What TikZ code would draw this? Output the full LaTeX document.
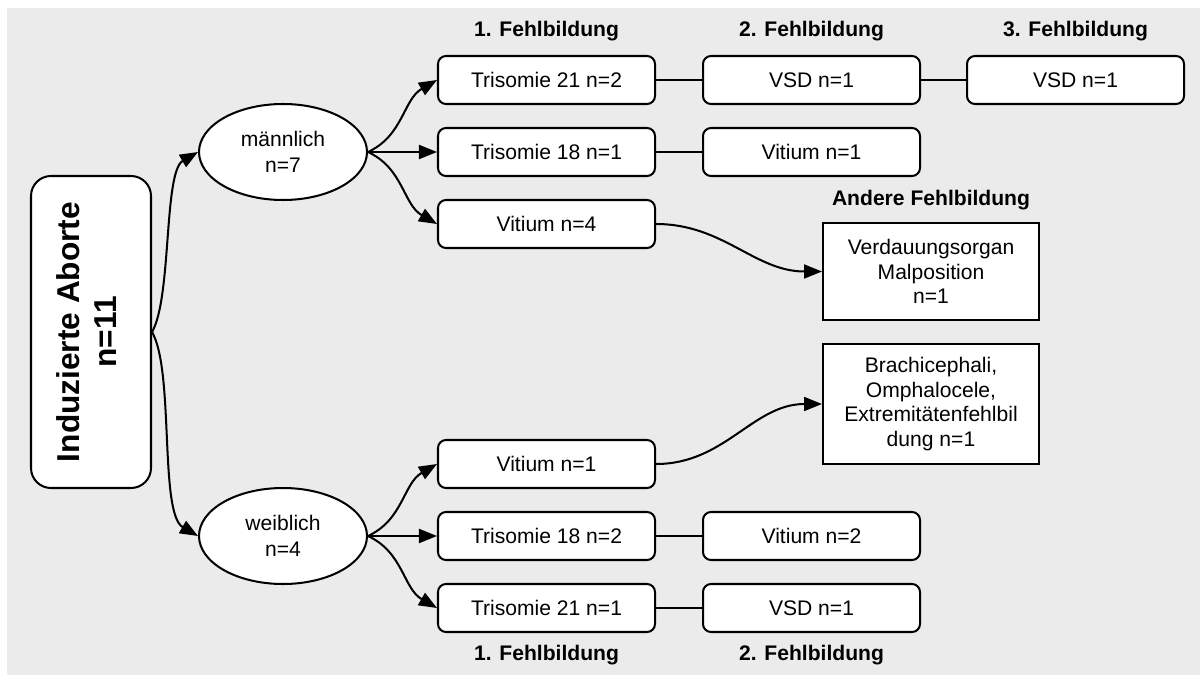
\documentclass[tikz,border=0pt]{standalone}
\usepackage{fontspec}
\setmainfont{Liberation Sans}
\usepackage{graphicx}
\usepackage{tikz}
\usetikzlibrary{shapes.geometric,arrows.meta}
\definecolor{bggray}{RGB}{235,235,235}
\def\boxwidth{4.34cm}
\def\boxheight{0.96cm}

\begin{document}
\begin{tikzpicture}[line width=1.15pt, >={Triangle[length=0.36cm,width=0.28cm]},
        font=\fontsize{12pt}{14pt}\selectfont]
            \tikzstyle{box}=[draw, fill=white, rounded corners=0.16cm, minimum width=\boxwidth, minimum height=\boxheight, inner sep=0pt]
            \tikzstyle{sex}=[draw, fill=white, ellipse, minimum width=3.36cm, minimum height=1.92cm, inner sep=0pt, align=center,
                             font=\fontsize{12pt}{15pt}\selectfont]
            \tikzstyle{other}=[draw, fill=white, minimum width=4.32cm, inner sep=0pt, align=center]
            \tikzstyle{annot}=[font=\fontsize{12pt}{14pt}\selectfont\bfseries]

            % Background
            \useasboundingbox (0,0) rectangle (24,13.5);
            \fill[bggray] (0.14,0) rectangle (24,13.34);

            % Root and the two sexes
            \node[draw, fill=white, rounded corners=0.4cm, minimum width=2.4cm, minimum height=6.24cm, inner sep=0pt,
                  font=\fontsize{18pt}{21pt}\selectfont\bfseries] (ABORTE) at (1.82,6.86)
                  {\rotatebox{90}{\begin{tabular}{@{}c@{}}Induzierte Aborte\\n=11\end{tabular}}};
            \node[sex] (MALE) at (5.66,10.46) {männlich\\n=7};
            \node[sex] (FEMALE) at (5.66,2.78) {weiblich\\n=4};

            % Malformations, male
            \node[box] (M-1) at (10.93,11.9) {Trisomie 21 n=2};
            \node[box] (M-2) at (10.93,10.46) {Trisomie 18 n=1};
            \node[box] (M-3) at (10.93,9.02) {Vitium n=4};
            \node[box] (M-1b) at (16.23,11.9) {VSD n=1};
            \node[box] (M-1c) at (21.51,11.9) {VSD n=1};
            \node[box] (M-2b) at (16.23,10.46) {Vitium n=1};

            % Malformations, female
            \node[box] (F-1) at (10.93,4.22) {Vitium n=1};
            \node[box] (F-2) at (10.93,2.78) {Trisomie 18 n=2};
            \node[box] (F-3) at (10.93,1.34) {Trisomie 21 n=1};
            \node[box] (F-2b) at (16.23,2.78) {Vitium n=2};
            \node[box] (F-3b) at (16.23,1.34) {VSD n=1};

            % Other malformations
            \node[other, minimum height=1.94cm] (VERD) at (18.62,8.07) {Verdauungsorgan\\Malposition\\n=1};
            \node[other, minimum height=2.4cm] (BRACH) at (18.62,5.42) {Brachicephali,\\Omphalocele,\\Extremitätenfehlbil\\dung n=1};

            % Column headings
            \foreach \n / \x in {1/10.93,2/16.23,3/21.51}
                \node[annot] (HEAD-\n) at (\x,12.87) {\n. Fehlbildung};
            \foreach \n / \x in {1/10.93,2/16.23}
                \node[annot] (FOOT-\n) at (\x,0.4) {\n. Fehlbildung};
            \node[annot] (ANDERE) at (18.62,9.5) {Andere Fehlbildung};

            % Connect root -> sexes -> first malformation
            \path (ABORTE.east) edge[->, out=60, in=210, looseness=0.55] (MALE.west)
                  (ABORTE.east) edge[->, out=-60, in=150, looseness=0.55] (FEMALE.west);
            \foreach \sex / \src in {M/MALE, F/FEMALE} {
                \path (\src.east) edge[->, out=25, in=210] (\sex-1.west)
                      (\src.east) edge[->] (\sex-2.west)
                      (\src.east) edge[->, out=-25, in=150] (\sex-3.west);
            }

            % Following malformations
            \draw (M-1) -- (M-1b) (M-1b) -- (M-1c) (M-2) -- (M-2b)
                  (F-2) -- (F-2b) (F-3) -- (F-3b);
            \path (M-3.east) edge[->, out=0, in=180] (VERD.west)
                  (F-1.east) edge[->, out=0, in=180] (BRACH.west);
        \end{tikzpicture}
\end{document}
